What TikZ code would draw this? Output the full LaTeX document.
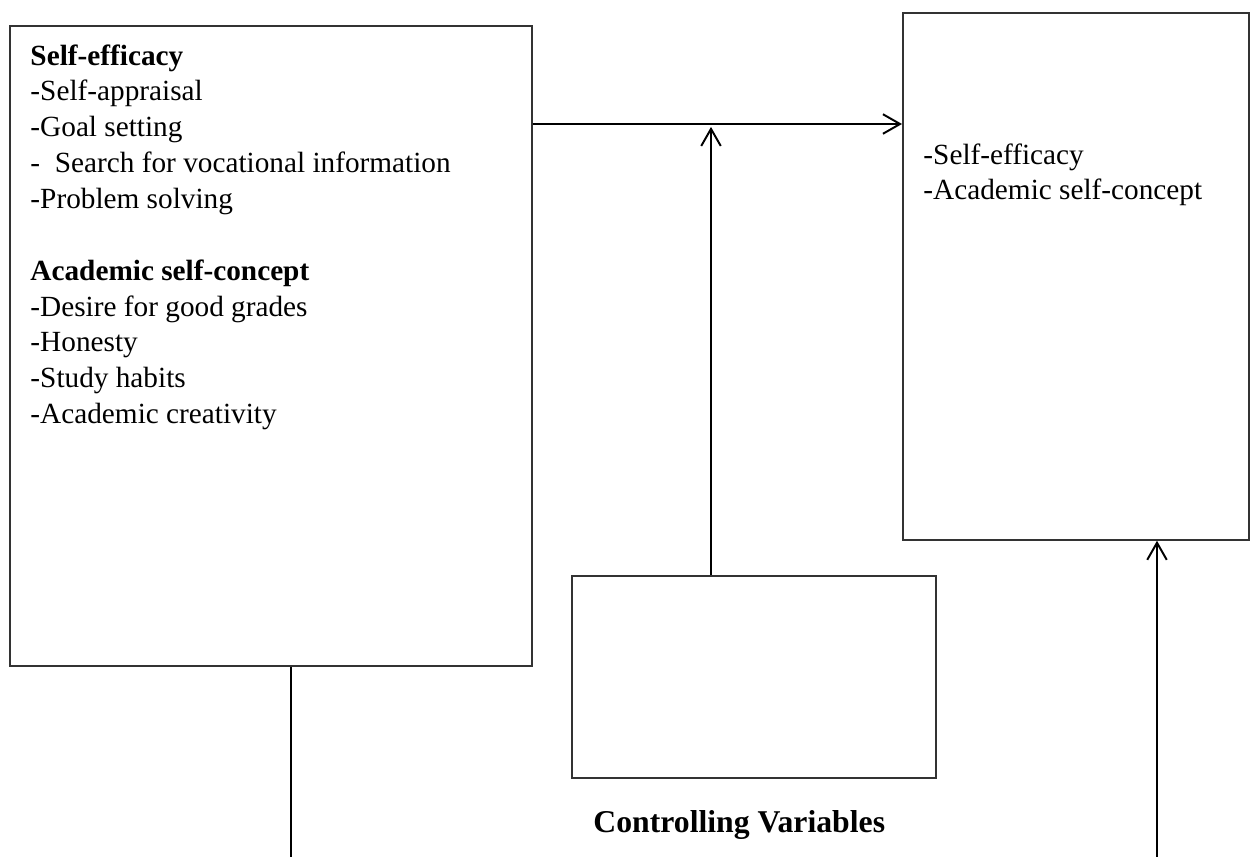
\documentclass[tikz,border=0pt]{standalone}
\usepackage{fontspec}
\setmainfont{Liberation Serif}
\usetikzlibrary{arrows.meta}

\begin{document}
\begin{tikzpicture}[x=0.41pt, y=-0.41pt,
    box/.style={rectangle, draw=black!80, line width=0.7pt, inner sep=0pt, anchor=north west},
    link/.style={line width=0.8pt, -{Straight Barb[length=7pt, width=8pt, line width=0.8pt]}},
    plain/.style={line width=0.8pt},
    txt/.style={inner sep=0pt, align=left, anchor=north west, font=\fontsize{12}{14.7}\selectfont}]
    \useasboundingbox (0,0) rectangle (1253,857);
    % boxes
    \node[box, minimum width=214pt, minimum height=262.4pt] (pred) at (9,25) {};
    \node[box, minimum width=141.9pt, minimum height=216.1pt] (crit) at (902,12) {};
    \node[box, minimum width=149.2pt, minimum height=82.8pt] (ctrl) at (571,575) {};
    % box texts
    \node[txt] (predtxt) at (30,44) {\textbf{Self-efficacy}\\
        -Self-appraisal\\
        -Goal setting\\
        -\ \ Search for vocational information\\
        -Problem solving\\[14.7pt]
        \textbf{Academic self-concept}\\
        -Desire for good grades\\
        -Honesty\\
        -Study habits\\
        -Academic creativity};
    \node[txt] (crittxt) at (923,143) {-Self-efficacy\\
        -Academic self-concept};
    \node[inner sep=0pt, anchor=base west, font=\fontsize{13}{15}\selectfont\bfseries] (ctrllabel) at (593,832) {Controlling Variables};
    % connectors
    \coordinate (join) at (711,124);
    \coordinate (predout) at (291,857);
    \coordinate (critin) at (1157,857);
    \draw[link] (pred.east |- join) -- (crit.west |- join);
    \draw[link] (ctrl.north -| join) -- ([yshift=-1.2pt]join);
    \draw[plain] (pred.south -| predout) -- (predout);
    \draw[link] (critin) -- (critin |- crit.south);
\end{tikzpicture}
\end{document}
